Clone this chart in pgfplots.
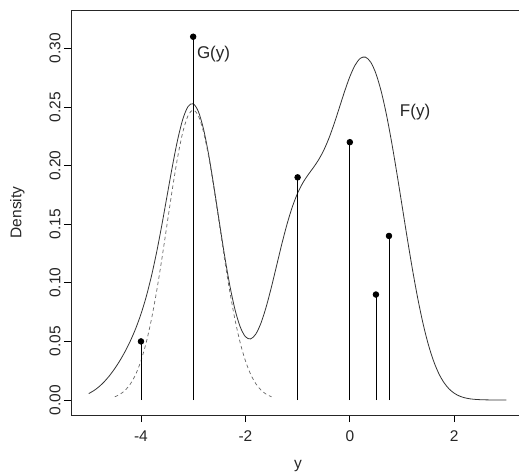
\documentclass[border=0pt]{standalone}
\usepackage{fontspec}
\setmainfont{Liberation Sans}
\usepackage{pgfplots}
\pgfplotsset{compat=1.18}

\begin{document}
\begin{tikzpicture}
\begin{axis}[
  scale only axis, width=448pt, height=405pt,
  xmin=-5.34, xmax=3.24, ymin=-0.0128, ymax=0.3328,
  axis x line*=box, axis y line*=left,
  xtick pos=bottom, ytick pos=left, tick align=outside,
  major tick length=7pt,
  xtick={-4,-2,0,2}, ytick={0,0.05,0.10,0.15,0.20,0.25,0.30},
  every tick/.style={black, line width=0.8pt},
  axis line style={line width=0.9pt, black!85},
  tick label style={font=\fontsize{15.5}{18}\selectfont, text=black!85},
  /pgf/number format/assume math mode=true,
  yticklabel style={rotate=90, anchor=south, /pgf/number format/.cd, fixed, fixed zerofill, precision=2},
  xticklabel style={yshift=-5pt},
  clip=false,
]
\coordinate (sw) at (rel axis cs:0,0);
\coordinate (ne) at (rel axis cs:1,1);
\coordinate (yl) at (rel axis cs:0,0.5);
\coordinate (xl) at (rel axis cs:0.5,0);

% F(y): mixture density
\addplot[black!80, line width=0.8pt, smooth] coordinates {
(-5.0,0.00548)(-4.9,0.00808)(-4.8,0.01147)(-4.7,0.01574)(-4.6,0.02090)
(-4.5,0.02695)(-4.4,0.03388)(-4.3,0.04174)(-4.2,0.05071)(-4.1,0.06109)
(-4.0,0.07336)(-3.9,0.08805)(-3.8,0.10560)(-3.7,0.12615)(-3.6,0.14936)
(-3.5,0.17422)(-3.4,0.19903)(-3.3,0.22157)(-3.2,0.23942)(-3.1,0.25034)
(-3.0,0.25279)(-2.9,0.24610)(-2.8,0.23080)(-2.7,0.20843)(-2.6,0.18131)
(-2.5,0.15214)(-2.4,0.12364)(-2.3,0.09811)(-2.2,0.07734)(-2.1,0.06249)
(-2.0,0.05405)(-1.9,0.05212)(-1.8,0.05630)(-1.7,0.06586)(-1.6,0.07976)
(-1.5,0.09667)(-1.4,0.11510)(-1.3,0.13352)(-1.2,0.15045)(-1.1,0.16494)
(-1.0,0.17649)(-0.9,0.18528)(-0.8,0.19212)(-0.7,0.19821)(-0.6,0.20483)
(-0.5,0.21305)(-0.4,0.22339)(-0.3,0.23581)(-0.2,0.24951)(-0.1,0.26334)
(0.0,0.27586)(0.1,0.28566)(0.2,0.29153)(0.3,0.29257)(0.4,0.28829)
(0.5,0.27854)(0.6,0.26353)(0.7,0.24379)(0.8,0.22016)(0.9,0.19378)
(1.0,0.16594)(1.1,0.13801)(1.2,0.11130)(1.3,0.08695)(1.4,0.06567)
(1.5,0.04793)(1.6,0.03377)(1.7,0.02294)(1.8,0.01504)(1.9,0.00948)
(2.0,0.00577)(2.1,0.00338)(2.2,0.00190)(2.3,0.00102)(2.4,0.00053)
(2.5,0.00027)(2.6,0.00013)(2.7,0.00006)(2.8,0.00003)(2.9,0.00001)(3.0,0.00000)};

% G(y): component at -3
\addplot[black!60, line width=0.7pt, dash pattern=on 3.5pt off 3pt, smooth] coordinates {
(-4.5,0.00275)(-4.4,0.00491)(-4.3,0.00842)(-4.2,0.01388)(-4.1,0.02199)
(-4.0,0.03347)(-3.9,0.04895)(-3.8,0.06877)(-3.7,0.09283)(-3.6,0.12039)
(-3.5,0.15002)(-3.4,0.17961)(-3.3,0.20660)(-3.2,0.22833)(-3.1,0.24244)
(-3.0,0.24734)(-2.9,0.24244)(-2.8,0.22833)(-2.7,0.20660)(-2.6,0.17961)
(-2.5,0.15002)(-2.4,0.12039)(-2.3,0.09283)(-2.2,0.06877)(-2.1,0.04895)
(-2.0,0.03347)(-1.9,0.02199)(-1.8,0.01388)(-1.7,0.00842)(-1.6,0.00491)(-1.5,0.00275)};

% mixing weights
\addplot[ycomb, black, line width=0.8pt, mark=*, mark size=2.8pt, mark options={fill=black}] coordinates {
(-4,0.05)(-3,0.31)(-1,0.19)(0,0.22)(0.5,0.09)(0.75,0.14)};

\node[font=\fontsize{17}{20}\selectfont, text=black!85] at (axis cs:-2.61,0.2949) {G(y)};
\node[font=\fontsize{17}{20}\selectfont, text=black!85] at (axis cs:1.25,0.2458) {F(y)};
\end{axis}
\node[rotate=90, anchor=south, font=\fontsize{15.5}{18}\selectfont, text=black!85] at ([xshift=-43pt]yl) {Density};
\node[anchor=base, font=\fontsize{15.5}{18}\selectfont, text=black!85] at ([xshift=3pt,yshift=-53pt]xl) {y};
\pgfresetboundingbox
\path ([shift={(-71pt,-59pt)}]sw) rectangle ([yshift=10pt]ne);
\end{tikzpicture}
\end{document}
